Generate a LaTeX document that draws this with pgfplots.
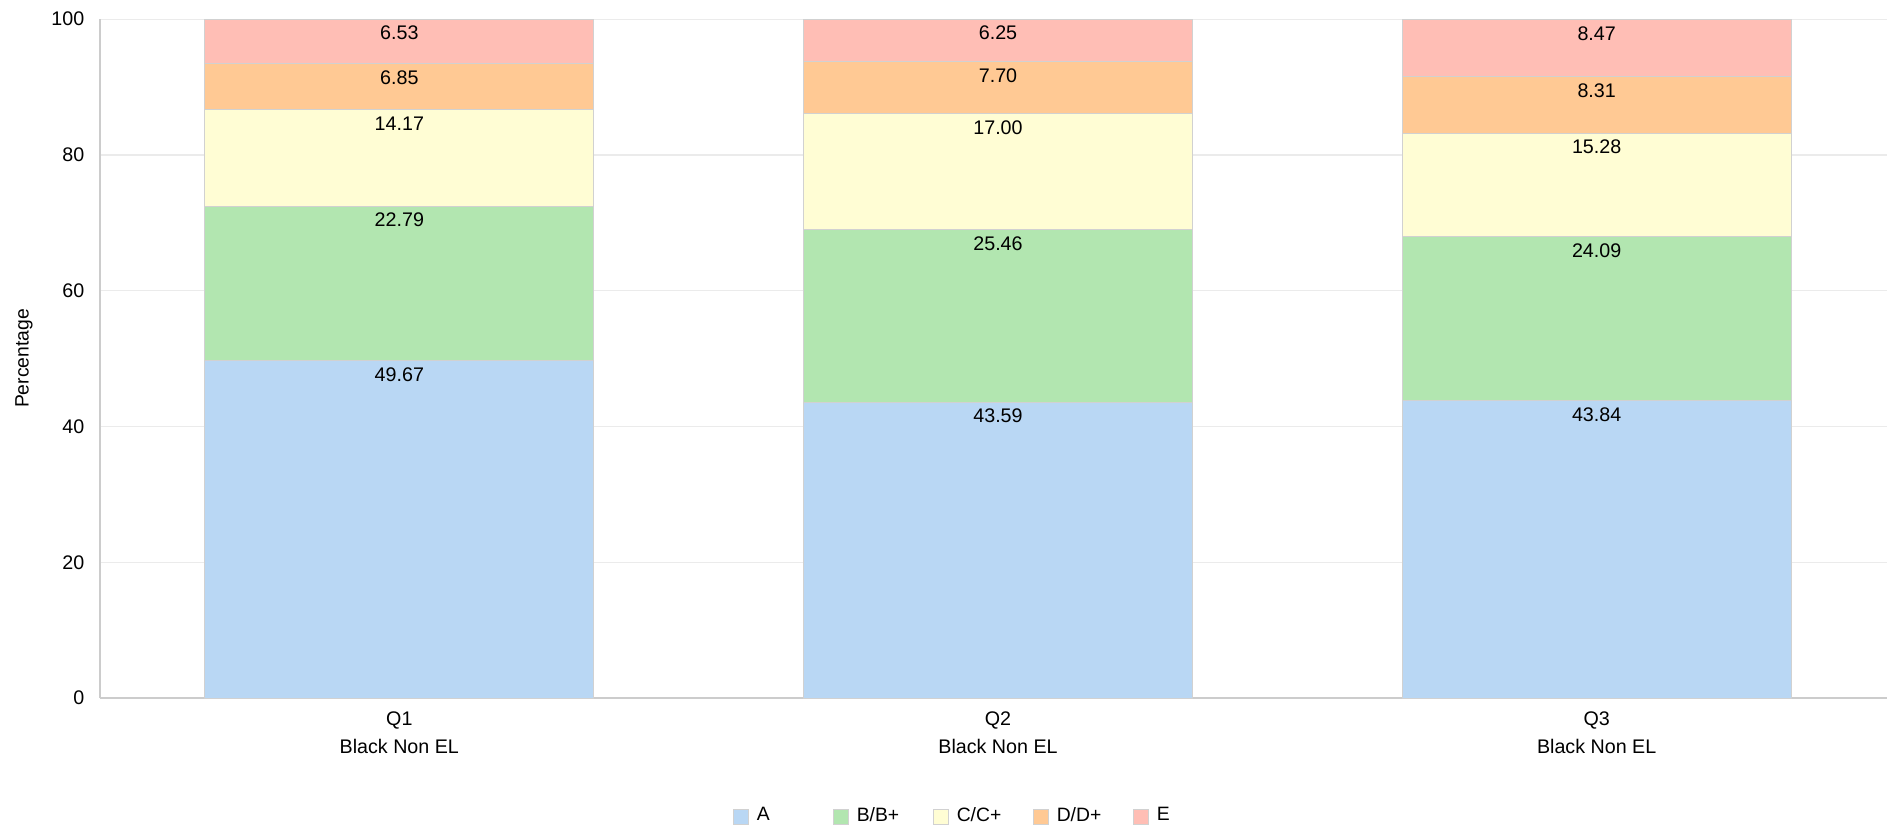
\documentclass[border=0pt]{standalone}
\usepackage{pgfplots}
\pgfplotsset{compat=1.18}
\usepackage{fontspec}
\setmainfont{Liberation Sans}
\definecolor{cA}{RGB}{185,215,244}
\definecolor{cB}{RGB}{178,230,176}
\definecolor{cC}{RGB}{255,253,212}
\definecolor{cD}{RGB}{255,201,148}
\definecolor{cE}{RGB}{255,190,181}
\definecolor{axgray}{RGB}{204,204,204}
\definecolor{gridgray}{RGB}{235,235,235}
\begin{document}
\begin{tikzpicture}
\path[use as bounding box] (0,0) rectangle (18.87cm,8.30cm);
\begin{axis}[
  at={(1.00cm,1.32cm)}, anchor=south west,
  scale only axis, width=17.87cm, height=6.79cm,
  ybar stacked, bar width=3.89cm,
  xmin=-0.5, xmax=2.485, ymin=0, ymax=100.03,
  xtick={0,1,2},
  xticklabels={{Q1\\Black Non EL},{Q2\\Black Non EL},{Q3\\Black Non EL}},
  ytick={0,20,...,100},
  /pgf/number format/assume math mode=true,
  axis lines=left,
  axis line style={-, draw=axgray, line width=0.015cm},
  ymajorgrids, grid style={draw=gridgray, line width=0.012cm},
  major tick length=0pt, tick style={draw=none},
  tick label style={font=\fontsize{5.6}{8}\selectfont},
  yticklabel style={inner sep=0pt, xshift=-0.15cm, anchor=east},
  xticklabel style={inner sep=0pt, yshift=-0.13cm, anchor=north, align=center},
  ylabel={Percentage},
  ylabel style={at={(axis description cs:-0.0425,0.5)}, anchor=center, font=\fontsize{5.5}{6}\selectfont},
  point meta=explicit symbolic,
  visualization depends on={rawy \as \rawy},
  nodes near coords,
  every node near coord/.append style={font=\fontsize{5.6}{6}\selectfont, anchor=north, inner sep=0pt,
     yshift={0.03395cm*\rawy-0.065cm}, text=black},
  legend columns=5,
  legend style={at={(axis description cs:0.3537,-0.175)}, anchor=west, draw=none, fill=none, inner sep=0pt,
    nodes={inner sep=0pt, font=\fontsize{5.5}{6}\selectfont},
    /tikz/every odd column/.append style={column sep=0.08cm}},
  legend cell align=left,
  legend image code/.code={\draw[#1] (0cm,-0.075cm) rectangle (0.15cm,0.075cm);},
]
\addplot[fill=cA, draw=black!18, line width=0.01cm] coordinates {(0,49.67) [49.67] (1,43.59) [43.59] (2,43.84) [43.84]};
\addlegendentry{\makebox[0.76cm][l]{A}}
\addplot[fill=cB, draw=black!18, line width=0.01cm] coordinates {(0,22.79) [22.79] (1,25.46) [25.46] (2,24.09) [24.09]};
\addlegendentry{\makebox[0.76cm][l]{B/B+}}
\addplot[fill=cC, draw=black!18, line width=0.01cm] coordinates {(0,14.17) [14.17] (1,17.00) [17.00] (2,15.28) [15.28]};
\addlegendentry{\makebox[0.76cm][l]{C/C+}}
\addplot[fill=cD, draw=black!18, line width=0.01cm] coordinates {(0,6.85) [6.85] (1,7.70) [7.70] (2,8.31) [8.31]};
\addlegendentry{\makebox[0.76cm][l]{D/D+}}
\addplot[fill=cE, draw=black!18, line width=0.01cm] coordinates {(0,6.53) [6.53] (1,6.25) [6.25] (2,8.47) [8.47]};
\addlegendentry{E}
\end{axis}
\end{tikzpicture}
\end{document}
